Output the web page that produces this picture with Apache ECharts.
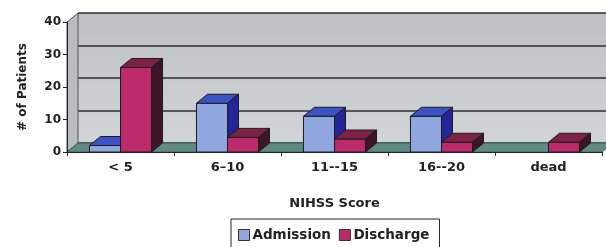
<!DOCTYPE html>
<html>
<head>
<meta charset="utf-8">
<script src="https://cdn.jsdelivr.net/npm/echarts@6/dist/echarts.min.js"></script>
<style>
  html, body { margin: 0; padding: 0; background: #fff; }
  #chart { width: 606px; height: 247px; }
</style>
</head>
<body>
<div id="chart"></div>
<script>
// data
const categories = ['< 5', '6\u201310', '11--15', '16--20', 'dead'];
const admission = [2, 15, 11, 11, 0];
const discharge = [26, 4.5, 4, 3, 3];
const yTicks = [0, 10, 20, 30, 40];

// fake 3D depth offset (px)
const DX = 11, DY = -9;
const FONT = 'DejaVu Sans';

const ADM = { front: '#8fa6de', top: '#3d52c4', side: '#25259a' };
const DIS = { front: '#bc2a6c', top: '#7c2244', side: '#3c1628' };

function barRenderer(side, c) {
  return function (params, api) {
    const cat = api.value(0), v = api.value(1);
    if (!v) return null;
    const base = api.coord([cat, 0]);
    const top = api.coord([cat, v]);
    const w = api.size([1, 0])[0] * 0.29;
    const x0 = side < 0 ? base[0] - w : base[0];
    const x1 = x0 + w, yt = top[1], yb = base[1];
    const line = { stroke: '#1c1c1c', lineWidth: 1 };
    return {
      type: 'group',
      children: [
        { type: 'rect', shape: { x: x0, y: yt, width: w, height: yb - yt },
          style: Object.assign({ fill: c.front }, line) },
        { type: 'polygon', shape: { points: [[x0, yt], [x0 + DX, yt + DY], [x1 + DX, yt + DY], [x1, yt]] },
          style: Object.assign({ fill: c.top }, line) },
        { type: 'polygon', shape: { points: [[x1, yt], [x1 + DX, yt + DY], [x1 + DX, yb + DY], [x1, yb]] },
          style: Object.assign({ fill: c.side }, line) }
      ]
    };
  };
}

// floor and left side wall, taken from the front grid rectangle
function frameRenderer(params, api) {
  const g = params.coordSys;
  const x = g.x, y = g.y, w = g.width, h = g.height;
  return {
    type: 'group',
    children: [
      { type: 'polygon', shape: { points: [[x, y], [x + DX, y + DY], [x + DX, y + h + DY], [x, y + h]] },
        style: { fill: '#b9bdc1', stroke: '#555', lineWidth: 1 } },
      { type: 'polygon', shape: { points: [[x, y + h], [x + DX, y + h + DY], [x + w + DX, y + h + DY], [x + w, y + h]] },
        style: { fill: '#5f8b84', stroke: '#3e5e58', lineWidth: 1 } }
    ]
  };
}

const yMin = yTicks[0], yMax = yTicks[yTicks.length - 1], yStep = yTicks[1] - yTicks[0];

const chart = echarts.init(document.getElementById('chart'), null, { renderer: 'canvas' });
chart.setOption({
  animation: false,
  textStyle: { fontFamily: FONT },
  grid: [
    { left: 67, right: 4, top: 22, bottom: 95 },
    { left: 67 + DX, right: 4 - DX, top: 22 + DY, bottom: 95 - DY, show: true, borderWidth: 0,
      backgroundColor: new echarts.graphic.LinearGradient(0, 0, 0, 1, [
        { offset: 0, color: '#bcc0c4' }, { offset: 1, color: '#d2d5d8' }]) }
  ],
  xAxis: [
    { type: 'category', gridIndex: 0, data: categories, z: 5,
      name: 'NIHSS Score', nameLocation: 'middle', nameGap: 45,
      nameTextStyle: { fontFamily: FONT, fontWeight: 'bold', fontSize: 13, color: '#222' },
      axisLine: { lineStyle: { color: '#222', width: 1 } },
      axisTick: { show: true, length: 4, lineStyle: { color: '#222' } },
      axisLabel: { margin: 9, fontFamily: FONT, fontWeight: 'bold', fontSize: 13, color: '#222' },
      splitLine: { show: false } },
    { type: 'category', gridIndex: 1, data: categories, show: false }
  ],
  yAxis: [
    { type: 'value', gridIndex: 0, min: yMin, max: yMax, interval: yStep, z: 5,
      name: '# of Patients', nameLocation: 'middle', nameGap: 38,
      nameTextStyle: { fontFamily: FONT, fontWeight: 'bold', fontSize: 12, color: '#222' },
      axisLine: { show: true, lineStyle: { color: '#222', width: 1 } },
      axisTick: { show: true, length: 4, lineStyle: { color: '#222' } },
      axisLabel: { margin: 6, fontFamily: FONT, fontWeight: 'bold', fontSize: 12, color: '#222' },
      splitLine: { show: false } },
    { type: 'value', gridIndex: 1, min: yMin, max: yMax, interval: yStep,
      axisLine: { show: false }, axisTick: { show: false }, axisLabel: { show: false },
      splitLine: { show: true, lineStyle: { color: '#2e2e2e', width: 1.5 } } }
  ],
  legend: {
    left: 231, top: 219,
    data: ['Admission', 'Discharge'],
    icon: 'rect', itemWidth: 11, itemHeight: 11, itemGap: 8,
    padding: [9, 10, 9, 7],
    borderColor: '#222', borderWidth: 1,
    itemStyle: { borderColor: '#333', borderWidth: 1 },
    textStyle: { fontFamily: FONT, fontWeight: 'bold', fontSize: 13.5, color: '#222', padding: [0, 0, 0, -2] }
  },
  series: [
    { type: 'custom', name: 'frame', xAxisIndex: 0, yAxisIndex: 0, z: 1, silent: true,
      renderItem: frameRenderer, data: [[0, 0]], encode: { x: 0, y: 1 } },
    { type: 'custom', name: 'Admission', xAxisIndex: 0, yAxisIndex: 0, z: 3,
      itemStyle: { color: ADM.front },
      renderItem: barRenderer(-1, ADM), encode: { x: 0, y: 1 },
      data: admission.map((v, i) => [i, v]) },
    { type: 'custom', name: 'Discharge', xAxisIndex: 0, yAxisIndex: 0, z: 3,
      itemStyle: { color: DIS.front },
      renderItem: barRenderer(1, DIS), encode: { x: 0, y: 1 },
      data: discharge.map((v, i) => [i, v]) }
  ]
});
</script>
</body>
</html>
